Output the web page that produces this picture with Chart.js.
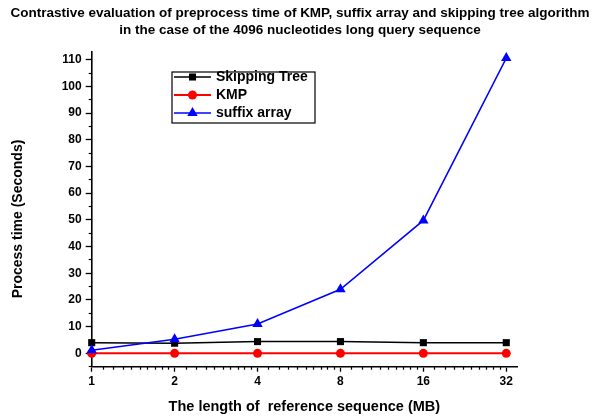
<!DOCTYPE html>
<html>
<head>
<meta charset="utf-8">
<script src="https://cdn.jsdelivr.net/npm/chart.js@4"></script>
<style>
  html, body { margin: 0; padding: 0; background: #fff; }
  #wrap { width: 600px; height: 416px; }
</style>
</head>
<body>
<div id="wrap"><canvas id="c" width="600" height="416"></canvas></div>
<script>
// Reference sequence lengths (MB) on a log2 axis
const lengthsMB = [1, 2, 4, 8, 16, 32];
// Preprocess time in seconds
const skippingTree = [4.0, 3.8, 4.4, 4.4, 4.0, 4.0];
const kmp = [0, 0, 0, 0, 0, 0];
const suffixArray = [1.2, 5.3, 11.0, 24.0, 49.8, 110.6];
// Axis ticks
const yMajorTicks = [0, 10, 20, 30, 40, 50, 60, 70, 80, 90, 100, 110];
const yMinorTicks = [-5, 5, 15, 25, 35, 45, 55, 65, 75, 85, 95, 105];
const xMajorTicks = lengthsMB;
const seriesNames = ['Skipping Tree', 'KMP', 'suffix array'];
const titleLines = [
  'Contrastive evaluation of preprocess time of KMP, suffix array and skipping tree algorithm',
  'in the case of the 4096 nucleotides long query sequence'
];

const X_MIN = 1, X_MAX = 35;
const Y_MIN = -5, Y_MAX = 113;
const FONT = '"Liberation Sans", Arial, sans-serif';

// log-scale minor ticks: 1.1v, 1.2v ... 1.9v inside each doubling
const xMinorTicks = [];
xMajorTicks.forEach(v => {
  for (let k = 1; k <= 9; k++) {
    const t = v * (1 + k / 10);
    if (t <= X_MAX) xMinorTicks.push(t);
  }
});

const pts = arr => lengthsMB.map((x, i) => ({ x, y: arr[i] }));

const datasets = [
  { label: seriesNames[0], data: pts(skippingTree), borderColor: '#000', backgroundColor: '#000',
    borderWidth: 1.5, pointStyle: 'rect', pointRadius: 5, pointBorderWidth: 0, order: 1 },
  { label: seriesNames[1], data: pts(kmp), borderColor: '#ff0000', backgroundColor: '#ff0000',
    borderWidth: 2, pointStyle: 'circle', pointRadius: 4.5, pointBorderWidth: 0, order: 2 },
  { label: seriesNames[2], data: pts(suffixArray), borderColor: '#0000ff', backgroundColor: '#0000ff',
    borderWidth: 1.5, pointStyle: 'triangle', pointRadius: 6, pointBorderWidth: 0, order: 0 }
].map(d => Object.assign(d, { clip: false, tension: 0, fill: false, pointHoverRadius: d.pointRadius }));

const setTicks = list => scale => { scale.ticks = list.map(v => ({ value: v })); };

function drawMarker(ctx, style, r, x, y, color) {
  ctx.save();
  ctx.fillStyle = color;
  ctx.beginPath();
  if (style === 'rect') {
    const s = r / Math.SQRT2;
    ctx.rect(x - s, y - s, 2 * s, 2 * s);
  } else if (style === 'circle') {
    ctx.arc(x, y, r, 0, Math.PI * 2);
  } else {
    for (let i = 0; i < 3; i++) {
      const a = i * 2 * Math.PI / 3;
      const px = x + Math.sin(a) * r, py = y - Math.cos(a) * r;
      i ? ctx.lineTo(px, py) : ctx.moveTo(px, py);
    }
    ctx.closePath();
  }
  ctx.fill();
  ctx.restore();
}

const decorations = {
  id: 'decorations',
  afterDraw(chart) {
    const ctx = chart.ctx;
    ctx.save();
    // chart title
    ctx.fillStyle = '#000';
    ctx.textAlign = 'center';
    ctx.textBaseline = 'middle';
    ctx.font = 'bold 13.5px ' + FONT;
    ctx.fillText(titleLines[0], 300, 13);
    ctx.fillText(titleLines[1], 300, 30);

    // y axis title
    ctx.save();
    ctx.translate(18, 219);
    ctx.rotate(-Math.PI / 2);
    ctx.font = 'bold 14px ' + FONT;
    ctx.fillText('Process time (Seconds)', 0, 0);
    ctx.restore();

    // legend box
    const bx = 172, by = 72, bw = 143, bh = 51;
    ctx.strokeStyle = '#000';
    ctx.lineWidth = 1.2;
    ctx.strokeRect(bx, by, bw, bh);
    const rows = [77, 95, 113];
    chart.data.datasets.forEach((ds, i) => {
      const y = rows[i];
      ctx.strokeStyle = ds.borderColor;
      ctx.lineWidth = ds.borderWidth;
      ctx.beginPath();
      ctx.moveTo(174, y);
      ctx.lineTo(211, y);
      ctx.stroke();
      drawMarker(ctx, ds.pointStyle, ds.pointRadius, 192.5, y, ds.backgroundColor);
      ctx.fillStyle = '#000';
      ctx.textAlign = 'left';
      ctx.textBaseline = 'middle';
      ctx.font = 'bold 14px ' + FONT;
      ctx.fillText(ds.label, 216, y + 0.5);
    });
    ctx.restore();
  }
};

new Chart(document.getElementById('c'), {
  type: 'line',
  data: { datasets },
  plugins: [decorations],
  options: {
    responsive: false,
    animation: false,
    events: [],
    layout: { padding: { top: 51.7, right: 83, bottom: 0, left: 0 } },
    plugins: { legend: { display: false }, title: { display: false }, tooltip: { enabled: false } },
    scales: {
      x: {
        type: 'logarithmic', position: 'bottom', min: X_MIN, max: X_MAX, weight: 1,
        afterBuildTicks: setTicks(xMajorTicks),
        afterFit: s => { s.height = 416 - 366.7; },
        grid: { drawOnChartArea: false, drawTicks: true, tickLength: 5, tickColor: '#000', tickWidth: 1.3 },
        border: { display: true, color: '#000', width: 1.6 },
        ticks: { color: '#000', font: { family: FONT, size: 12, weight: 'bold' }, padding: 3,
                 maxRotation: 0, autoSkip: false, callback: v => String(v) },
        title: { display: true, text: 'The length of  reference sequence (MB)', color: '#000',
                 font: { family: FONT, size: 14.5, weight: 'bold' }, padding: { top: 0, bottom: 0 } }
      },
      xMinor: {
        type: 'logarithmic', position: 'bottom', min: X_MIN, max: X_MAX, weight: 0,
        afterBuildTicks: setTicks(xMinorTicks),
        afterFit: s => { s.height = 0; },
        grid: { drawOnChartArea: false, drawTicks: true, tickLength: 3, tickColor: '#000', tickWidth: 1.2 },
        border: { display: false },
        ticks: { display: false, autoSkip: false }
      },
      y: {
        type: 'linear', position: 'left', min: Y_MIN, max: Y_MAX, weight: 1,
        afterBuildTicks: setTicks(yMajorTicks),
        afterFit: s => { s.width = 91.7; },
        grid: { drawOnChartArea: false, drawTicks: true, tickLength: 6, tickColor: '#000', tickWidth: 1.3 },
        border: { display: true, color: '#000', width: 1.6 },
        ticks: { color: '#000', font: { family: FONT, size: 12, weight: 'bold' }, padding: 4,
                 autoSkip: false, callback: v => String(v) }
      },
      yMinor: {
        type: 'linear', position: 'left', min: Y_MIN, max: Y_MAX, weight: 0,
        afterBuildTicks: setTicks(yMinorTicks),
        afterFit: s => { s.width = 0; },
        grid: { drawOnChartArea: false, drawTicks: true, tickLength: 3, tickColor: '#000', tickWidth: 1.2 },
        border: { display: false },
        ticks: { display: false, autoSkip: false }
      }
    }
  }
});
</script>
</body>
</html>
